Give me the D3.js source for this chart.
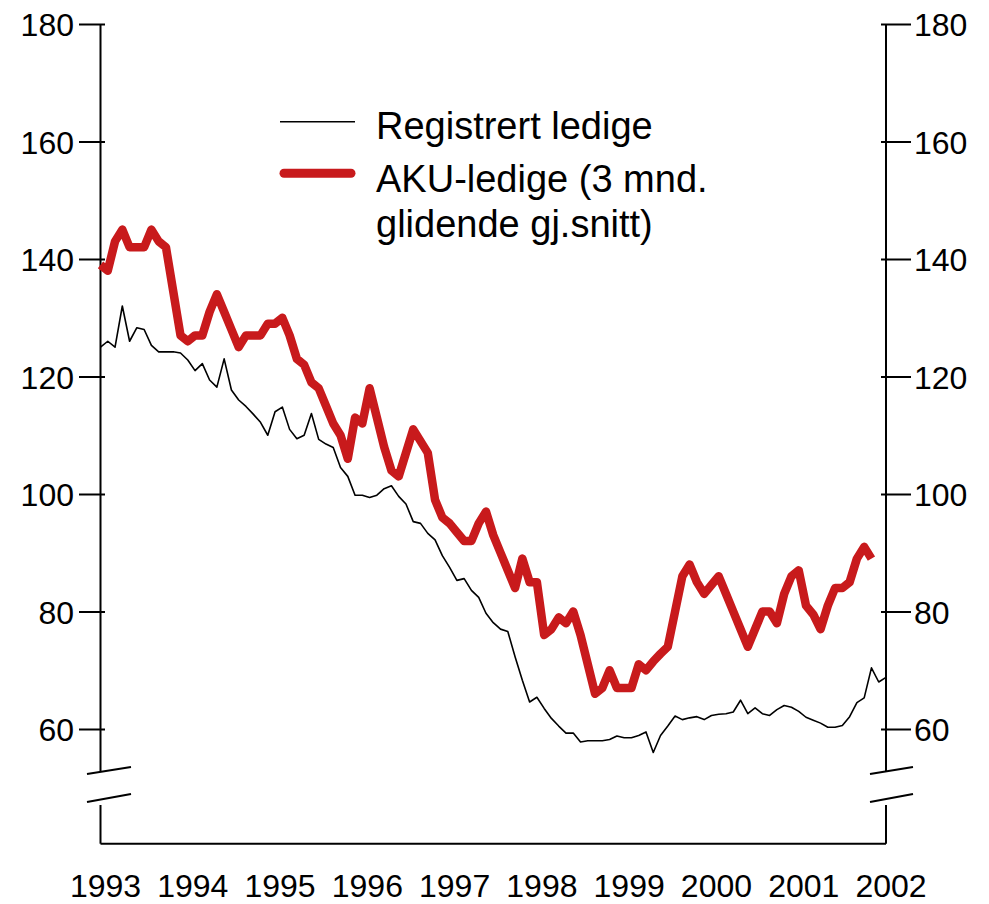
<!DOCTYPE html>
<html>
<head>
<meta charset="utf-8">
<script src="https://cdn.jsdelivr.net/npm/d3@7"></script>
<style>
  html, body { margin: 0; padding: 0; background: #fff; }
  svg { display: block; font-family: "Liberation Sans", Arial, Helvetica, sans-serif; }
</style>
</head>
<body>
<svg id="chart" width="989" height="904"></svg>
<script>
// ---- Data (monthly, index 0 = January 1993) ----
const startYear = 1993;
const yearLabels = [1993, 1994, 1995, 1996, 1997, 1998, 1999, 2000, 2001, 2002];
const yTicks = [60, 80, 100, 120, 140, 160, 180];
const seriesNames = ["Registrert ledige", "AKU-ledige (3 mnd.", "glidende gj.snitt)"];

// Registrert ledige (Jan 1993 - Jan 2002)
const registrert = [
  125, 126, 125, 132, 126, 128.3, 128, 125.3, 124.2, 124.2, 124.2, 124,
  122.8, 121, 122.2, 119.4, 118.2, 123, 117.7, 116, 114.9, 113.6, 112.2, 110,
  114, 114.8, 111, 109.4, 110, 113.7, 109.3, 108.5, 107.9, 104.5, 103, 99.8,
  99.8, 99.4, 99.8, 100.9, 101.4, 99.6, 98.3, 95.3, 95, 93.3, 92.2, 89.5,
  87.5, 85.3, 85.6, 83.6, 82.4, 79.7, 78.1, 77, 76.6, 72.3, 68.3, 64.6,
  65.4, 63.5, 61.8, 60.5, 59.3, 59.3, 57.8, 58, 58, 58, 58.2, 58.8,
  58.5, 58.5, 58.9, 59.5, 56, 58.9, 60.5, 62.2, 61.6, 61.9, 62.1, 61.6,
  62.3, 62.5, 62.6, 62.9, 64.9, 62.6, 63.6, 62.6, 62.3, 63.3, 64, 63.7,
  63, 62, 61.5, 61, 60.3, 60.3, 60.6, 62.1, 64.5, 65.3, 70.4, 68,
  68.8
];

// AKU-ledige, 3 mnd. glidende gjennomsnitt (Jan 1993 - Nov 2001)
const aku = [
  139, 138, 143, 145, 142, 142, 142, 145, 143, 142, 134.5, 127,
  126, 127, 127, 131, 134, 131, 128, 125, 127, 127, 127, 129,
  129, 130, 127, 123, 122, 119, 118, 115, 112, 110, 106, 113,
  112, 118, 113, 108, 104, 103, 107, 111, 109, 107, 99, 96,
  95, 93.5, 92, 92, 95, 97, 93, 90, 87, 84, 89, 85,
  85, 76, 77, 79, 78, 80, 76, 71, 66, 67, 70, 67,
  67, 67, 71, 70, 71.5, 72.8, 74, 80, 86, 88, 85, 83,
  84.5, 86, 83, 80, 77, 74, 77, 80, 80, 78, 83, 86,
  87, 81, 79.5, 77, 81, 84, 84, 85, 89, 91, 89
];

// ---- Layout ----
const svg = d3.select("#chart");
const plotLeft = 100.5, plotRight = 886, plotTop = 24, plotBottom = 843.7;
const breakTop = 771.5, breakBottom = 805;

const x = d3.scaleLinear().domain([0, (yearLabels.length - 1) * 12]).range([plotLeft, plotRight]);
const y = d3.scaleLinear().domain([60, 180]).range([729, 24]);

const fontTick = 32;

// Left axis (ticks cross the axis line)
const gL = svg.append("g").attr("transform", `translate(${plotLeft + 4.5},0)`)
  .call(d3.axisLeft(y).tickValues(yTicks).tickSize(26).tickPadding(5).tickFormat(d3.format("d")));
gL.select(".domain").remove();
gL.selectAll(".tick line").attr("stroke", "#000").attr("stroke-width", 2);
gL.selectAll(".tick text").attr("font-size", fontTick).attr("fill", "#000")
  .attr("font-family", '"Liberation Sans", Arial, sans-serif').attr("dy", "0.36em");

// Right axis
const gR = svg.append("g").attr("transform", `translate(${plotRight - 5},0)`)
  .call(d3.axisRight(y).tickValues(yTicks).tickSize(30).tickPadding(3).tickFormat(d3.format("d")));
gR.select(".domain").remove();
gR.selectAll(".tick line").attr("stroke", "#000").attr("stroke-width", 2);
gR.selectAll(".tick text").attr("font-size", fontTick).attr("fill", "#000")
  .attr("font-family", '"Liberation Sans", Arial, sans-serif').attr("dy", "0.36em");

// Axis frame with breaks
const frame = svg.append("g").attr("stroke", "#000").attr("stroke-width", 2).attr("fill", "none");
[plotLeft, plotRight].forEach(xx => {
  frame.append("line").attr("x1", xx).attr("x2", xx).attr("y1", plotTop).attr("y2", breakTop);
  frame.append("line").attr("x1", xx).attr("x2", xx).attr("y1", breakBottom).attr("y2", plotBottom);
});
frame.append("line").attr("x1", plotLeft).attr("x2", plotRight).attr("y1", plotBottom).attr("y2", plotBottom);
// break slashes
[[plotLeft - 13.5, plotLeft + 30.5], [plotRight - 16, plotRight + 27]].forEach(([a, b]) => {
  frame.append("line").attr("x1", a).attr("y1", 774).attr("x2", b).attr("y2", 767);
  frame.append("line").attr("x1", a).attr("y1", 802).attr("x2", b).attr("y2", 794);
});

// X labels (years)
svg.append("g").selectAll("text").data(yearLabels).join("text")
  .attr("x", d => x((d - startYear) * 12) + 5)
  .attr("y", 897)
  .attr("text-anchor", "middle")
  .attr("font-size", fontTick)
  .attr("fill", "#000")
  .text(d => d);

// Lines
const line = d3.line().x((d, i) => x(i)).y(d => y(d));

svg.append("path").datum(registrert)
  .attr("d", line)
  .attr("fill", "none").attr("stroke", "#000").attr("stroke-width", 1.6)
  .attr("stroke-linejoin", "round");

const red = "#c81a1c";
svg.append("path").datum(aku)
  .attr("d", line)
  .attr("fill", "none").attr("stroke", red).attr("stroke-width", 8.5)
  .attr("stroke-linejoin", "round").attr("stroke-linecap", "butt");

// Legend
const lg = svg.append("g");
lg.append("line").attr("x1", 280).attr("x2", 355).attr("y1", 121.7).attr("y2", 121.7)
  .attr("stroke", "#000").attr("stroke-width", 1.6);
lg.append("line").attr("x1", 284).attr("x2", 351).attr("y1", 173.3).attr("y2", 173.3)
  .attr("stroke", red).attr("stroke-width", 9).attr("stroke-linecap", "round");
const legendY = [139, 191.5, 237];
lg.selectAll("text").data(seriesNames).join("text")
  .attr("x", 376).attr("y", (d, i) => legendY[i])
  .attr("font-size", 38).attr("fill", "#000")
  .text(d => d);
</script>
</body>
</html>
